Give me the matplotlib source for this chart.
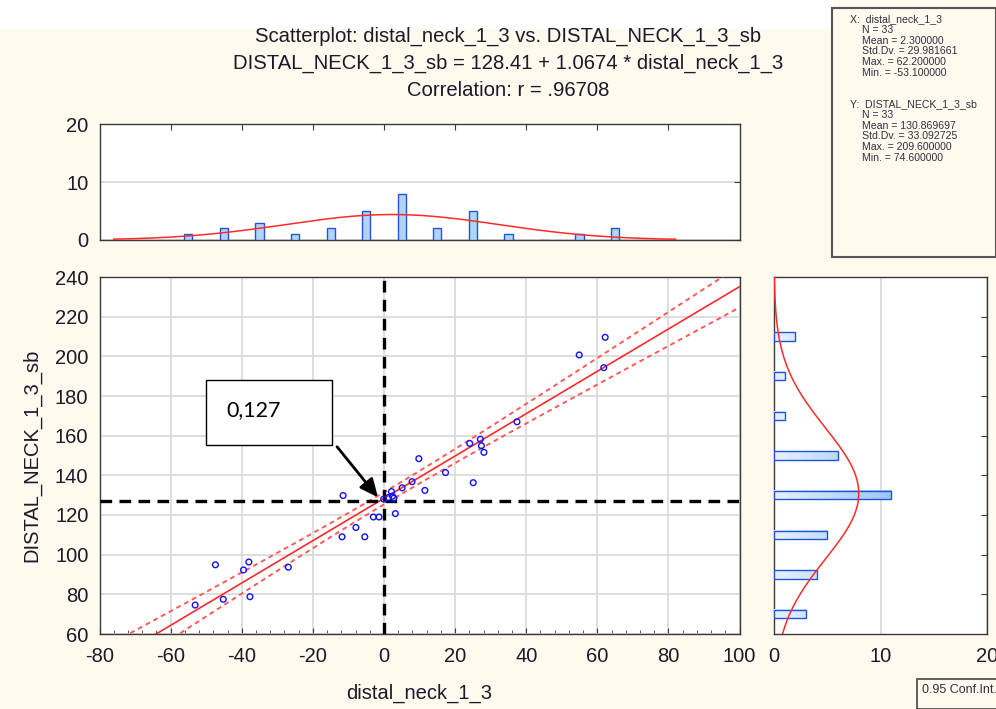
import matplotlib
matplotlib.use("Agg")
import matplotlib.pyplot as plt
import numpy as np
from matplotlib.patches import Rectangle
from matplotlib.colors import LinearSegmentedColormap

plt.rcParams["font.family"] = ["Liberation Sans", "DejaVu Sans"]
plt.rcParams["axes.unicode_minus"] = False

# ---- data ----
x_pts = [-53.1, -47.4, -45.2, -39.5, -38.0, -37.7, -26.9, -11.5, -11.8, -7.9,
         -5.4, -3.0, -1.4, -0.1, 1.2, 2.1, 2.4, 2.8, 3.2, 5.1, 7.9, 9.8, 11.5,
         17.3, 24.1, 25.1, 27.1, 27.4, 28.1, 37.4, 54.9, 62.2, 61.8]
y_pts = [74.6, 94.9, 77.5, 92.3, 96.3, 78.8, 93.7, 129.8, 109.0, 113.7,
         109.0, 119.0, 119.0, 128.0, 128.8, 131.8, 129.5, 128.5, 120.7, 133.7,
         136.8, 148.4, 132.4, 141.4, 156.1, 136.3, 158.2, 154.9, 151.6, 167.0,
         200.7, 209.6, 194.3]

x_bin_centers = [-55, -45, -35, -25, -15, -5, 5, 15, 25, 35, 45, 55, 65]
x_bin_counts = [1, 2, 3, 1, 2, 5, 8, 2, 5, 1, 0, 1, 2]
y_bin_centers = [70, 90, 110, 130, 150, 170, 190, 210]
y_bin_counts = [3, 4, 5, 11, 6, 1, 1, 2]

n_obs = 33
x_mean, x_sd = 2.300000, 29.981661
y_mean, y_sd = 130.869697, 33.092725
intercept, slope, r_corr = 128.41, 1.0674, 0.96708
t_crit = 2.04

ref_x, ref_y = 0, 127
note_text = "0,127"

stats_x = ["X:  distal_neck_1_3", "N = 33", "Mean = 2.300000",
           "Std.Dv. = 29.981661", "Max. = 62.200000", "Min. = -53.100000"]
stats_y = ["Y:  DISTAL_NECK_1_3_sb", "N = 33", "Mean = 130.869697",
           "Std.Dv. = 33.092725", "Max. = 209.600000", "Min. = 74.600000"]

# ---- figure / layout in pixels ----
W, H = 996, 709
BG = "#fff9ee"
fig = plt.figure(figsize=(W / 100, H / 100), dpi=100, facecolor=BG)


def px_axes(l, t, r, b):
    return fig.add_axes([l / W, 1 - b / H, (r - l) / W, (b - t) / H])


fig.patches.append(Rectangle((0, 1 - 28 / H), 832 / W, 28 / H,
                             transform=fig.transFigure, color="white", zorder=0))

spine_c = "#3a3a3a"
grid_c = "#d8d8d8"
red = "#ff2a2a"
blue_edge = "#1f56d8"
blue_fill = "#b3d4f8"
grad = LinearSegmentedColormap.from_list("bargrad", ["#e6f1fd", "#9cc6f4"])


def style(ax):
    ax.set_facecolor("white")
    for s in ax.spines.values():
        s.set_color(spine_c)
        s.set_linewidth(1.0)
    ax.tick_params(colors=spine_c, labelcolor="#1a1a2a", labelsize=14.5,
                   direction="in", length=4)


# ---- main scatter ----
ax = px_axes(99.5, 277, 739.6, 634)
style(ax)
ax.set_xlim(-80, 100)
ax.set_ylim(60, 240)
ax.set_xticks(np.arange(-80, 101, 20))
ax.set_yticks(np.arange(60, 241, 20))
ax.set_xticks(np.arange(-80, 101, 4), minor=True)
ax.tick_params(axis="x", which="minor", direction="in", length=3, color=spine_c)
ax.tick_params(axis="x", pad=9)
ax.tick_params(axis="y", pad=8, length=0)
ax.grid(True, color=grid_c, lw=1.2)
ax.set_axisbelow(True)

xs = np.linspace(-80, 100, 200)
yhat = intercept + slope * xs
s_res = y_sd * np.sqrt(1 - r_corr ** 2) * np.sqrt((n_obs - 1) / (n_obs - 2))
sxx = (n_obs - 1) * x_sd ** 2
half = t_crit * s_res * np.sqrt(1 / n_obs + (xs - x_mean) ** 2 / sxx)
ax.plot(xs, yhat, color=red, lw=1.2, zorder=3)
ax.plot(xs, yhat + half, color="#ff5a5a", lw=1.4, ls=(0, (2.5, 2)), zorder=3)
ax.plot(xs, yhat - half, color="#ff5a5a", lw=1.4, ls=(0, (2.5, 2)), zorder=3)

ax.axvline(ref_x, color="black", lw=2.4, ls=(0, (3.5, 2.2)), zorder=4)
ax.axhline(ref_y, color="black", lw=2.4, ls=(0, (3.5, 2.2)), zorder=4)

ax.scatter(x_pts, y_pts, s=17, facecolors="none", edgecolors="#1010ff",
           linewidths=1.0, zorder=5)

ax.set_xlabel("distal_neck_1_3", fontsize=14.5, color="#1a1a2a", labelpad=13)
ax.set_ylabel("DISTAL_NECK_1_3_sb", fontsize=14.5, color="#1a1a2a", labelpad=10)

# annotation box + arrow
ax.annotate("", xy=(-1.2, 127.8), xytext=(-13.7, 155.5),
            arrowprops=dict(arrowstyle="-|>,head_length=1.1,head_width=0.5",
                            color="black", lw=2.0), zorder=6)
ax.add_patch(Rectangle((-50.0, 155.5), 35.4, 32.8, fc="white", ec="black",
                       lw=1.0, zorder=6))
ax.text(-44.3, 173.0, note_text, fontsize=15.5, family=["Lato", "DejaVu Sans"],
        va="center", ha="left", zorder=7)

# ---- top histogram ----
axt = px_axes(99.5, 124, 739.6, 240)
style(axt)
axt.set_xlim(-80, 100)
axt.set_ylim(0, 20)
axt.set_yticks([0, 10, 20])
axt.set_xticks(np.arange(-60, 81, 20))
axt.tick_params(axis="x", labelbottom=False, bottom=False, top=True)
axt.tick_params(axis="y", pad=8, right=True, left=False)
axt.grid(True, axis="y", color=grid_c, lw=1.2)
axt.set_axisbelow(True)
axt.bar(x_bin_centers, x_bin_counts, width=2.3, color=blue_fill,
        edgecolor=blue_edge, lw=1.0, zorder=3)
gx = np.linspace(-76, 82, 300)
gpdf = n_obs * 10 / (x_sd * np.sqrt(2 * np.pi)) * np.exp(-0.5 * ((gx - x_mean) / x_sd) ** 2)
axt.plot(gx, gpdf, color=red, lw=1.1, zorder=4)

# ---- right histogram ----
axr = px_axes(774, 277, 987, 634)
style(axr)
axr.set_xlim(0, 20)
axr.set_ylim(60, 240)
axr.set_xticks([0, 10, 20])
axr.set_yticks(np.arange(80, 221, 20))
axr.tick_params(axis="y", labelleft=False, left=False, right=True)
axr.tick_params(axis="x", pad=9, length=0)
axr.grid(True, axis="x", color=grid_c, lw=1.2)
axr.set_axisbelow(True)
bars = axr.barh(y_bin_centers, y_bin_counts, height=4.2, color="none",
                edgecolor=blue_edge, lw=1.0, zorder=4)
ramp = np.linspace(0, 1, 64).reshape(1, -1)
for b in bars:
    x0, y0 = b.get_x(), b.get_y()
    w, h = b.get_width(), b.get_height()
    if w <= 0:
        continue
    axr.imshow(ramp, cmap=grad, aspect="auto", extent=(x0, x0 + w, y0, y0 + h),
               zorder=3, vmin=0, vmax=1 * max(y_bin_counts) / w)
axr.set_xlim(0, 20)
axr.set_ylim(60, 240)
gy = np.linspace(58, 240, 300)
gpy = n_obs * 20 / (y_sd * np.sqrt(2 * np.pi)) * np.exp(-0.5 * ((gy - y_mean) / y_sd) ** 2)
axr.plot(gpy, gy, color=red, lw=1.1, zorder=5)

# ---- titles ----
title_lines = ["Scatterplot: distal_neck_1_3 vs. DISTAL_NECK_1_3_sb",
               "DISTAL_NECK_1_3_sb = %.2f + %.4f * distal_neck_1_3" % (intercept, slope),
               "Correlation: r = .96708"]
for i, line in enumerate(title_lines):
    fig.text(508 / W, 1 - (36 + 27 * i) / H, line, fontsize=14.6, ha="center",
             va="center", color="#1a1a2a")

# ---- stats box ----
fig.patches.append(Rectangle((832 / W, 1 - 257 / H), (W - 832) / W, (257 - 8) / H,
                             transform=fig.transFigure, fc=BG, ec="#555555",
                             lw=1.5, zorder=1))
for i, line in enumerate(stats_x):
    fig.text((850 if i == 0 else 862) / W, 1 - (19 + 10.8 * i) / H, line,
             fontsize=7.6, va="center", color="#303040")
for i, line in enumerate(stats_y):
    fig.text((850 if i == 0 else 862) / W, 1 - (104 + 10.8 * i) / H, line,
             fontsize=7.6, va="center", color="#303040")

# ---- conf. int. legend stub ----
fig.patches.append(Rectangle((917 / W, 0), (W - 917 + 5) / W, 30 / H,
                             transform=fig.transFigure, fc=BG, ec="#444444",
                             lw=1.2, zorder=1))
fig.text(922 / W, 1 - 690 / H, "0.95 Conf.Int.", fontsize=9, va="center",
         color="#303040")

fig.savefig("out.png", dpi=100, facecolor=BG)
